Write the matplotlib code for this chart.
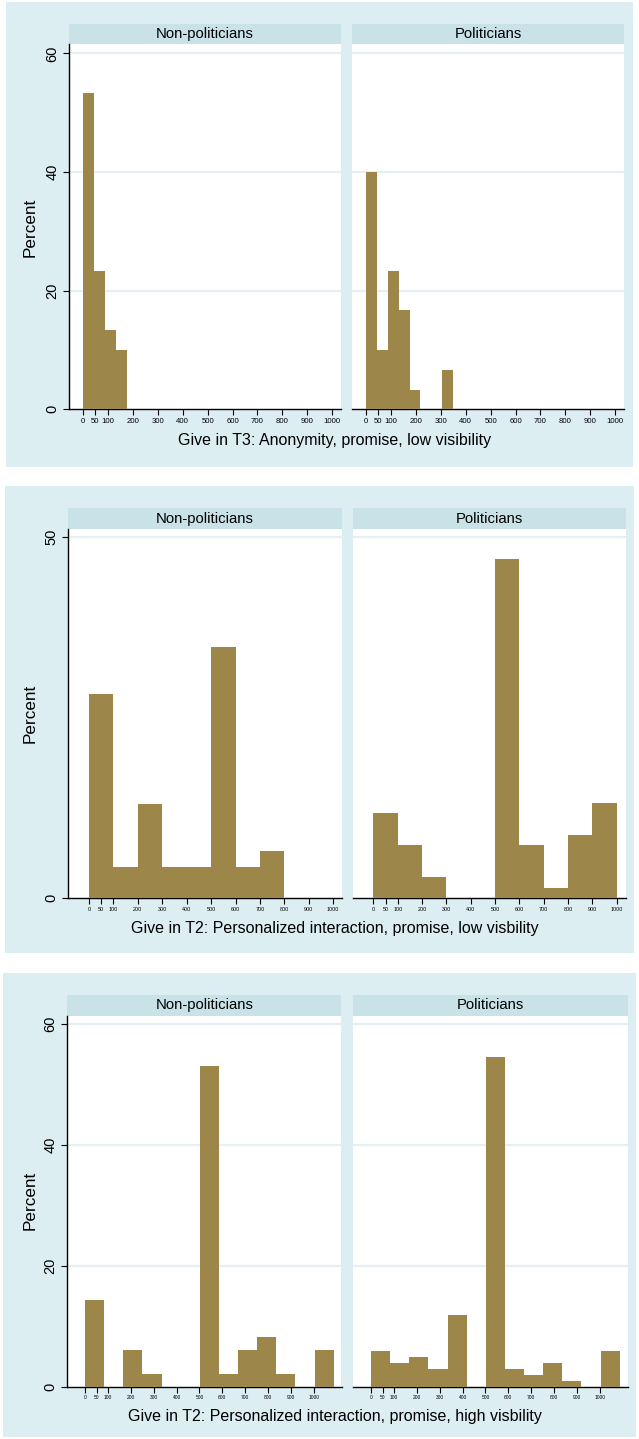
import numpy as np
import matplotlib
matplotlib.use("Agg")
import matplotlib.pyplot as plt
from matplotlib.patches import Rectangle

plt.rcParams['font.family'] = ['Liberation Sans', 'DejaVu Sans']

# counts per bin (percent = count / N)
groups = ["Non-politicians", "Politicians"]

t3_bin = 43.75
t3_nonpol = [16, 7, 4, 3]
t3_pol = [12, 3, 7, 5, 1, 0, 0, 2]

t2low_bin = 100
t2low_nonpol = [13, 2, 6, 2, 2, 16, 2, 3]
t2low_pol = [8, 5, 2, 0, 0, 32, 5, 1, 6, 9]

t2high_bin = 83.6
t2high_nonpol = [7, 0, 3, 1, 0, 0, 26, 1, 3, 4, 1, 0, 3]
t2high_pol = [6, 4, 5, 3, 12, 0, 55, 3, 2, 4, 1, 0, 6]

xticks = [0, 50, 100, 200, 300, 400, 500, 600, 700, 800, 900, 1000]

titles = ["Give in T3: Anonymity, promise, low visibility",
          "Give in T2: Personalized interaction, promise, low visbility",
          "Give in T2: Personalized interaction, promise, high visbility"]

W, H = 639, 1439
BG = "#ddeef2"
STRIP = "#c8e2e8"
GRID = "#e4f1f4"
BAR = "#9c864a"

fig = plt.figure(figsize=(W / 100, H / 100), dpi=100)
fig.patch.set_facecolor("white")


def box(x0, y0, x1, y1):
    # pixel box (top-left origin) -> figure fraction rect
    return [x0 / W, 1 - y1 / H, (x1 - x0) / W, (y1 - y0) / H]


panels = [
    dict(bg=(6, 2, 633, 467), cols=[(69, 341), (352, 624)], strip=(24, 44), plot=(44, 409.3),
         xlim=(-56, 1035), ylim=(0, 61.6), yt=[0, 20, 40, 60], xfs=5.6,
         data=(t3_nonpol, t3_pol), bw=t3_bin, ty=441, py=227),
    dict(bg=(5, 486, 634, 952.7), cols=[(68, 342), (352.5, 625.5)], strip=(508.3, 529), plot=(529, 898.3),
         xlim=(-86, 1036), ylim=(0, 51.15), yt=[0, 50], xfs=3.9,
         data=(t2low_nonpol, t2low_pol), bw=t2low_bin, ty=928, py=713),
    dict(bg=(3, 972.7, 636, 1437), cols=[(67, 341.5), (353, 627.5)], strip=(995, 1015.7), plot=(1015.7, 1386.7),
         xlim=(-79, 1121), ylim=(0, 61.3), yt=[0, 20, 40, 60], xfs=3.5,
         data=(t2high_nonpol, t2high_pol), bw=t2high_bin, ty=1417, py=1200),
]

for k, p in enumerate(panels):
    bx0, by0, bx1, by1 = p["bg"]
    fig.patches.append(Rectangle((bx0 / W, 1 - by1 / H), (bx1 - bx0) / W, (by1 - by0) / H,
                                 transform=fig.transFigure, facecolor=BG, edgecolor="none", zorder=-5))
    for i, (c0, c1) in enumerate(p["cols"]):
        sa = fig.add_axes(box(c0, p["strip"][0], c1, p["strip"][1]))
        sa.set_facecolor(STRIP)
        sa.set_xticks([])
        sa.set_yticks([])
        for s in sa.spines.values():
            s.set_visible(False)
        sa.text(0.5, 0.5, groups[i], ha="center", va="center", fontsize=10.7, transform=sa.transAxes)

        ax = fig.add_axes(box(c0, p["plot"][0], c1, p["plot"][1]))
        ax.set_facecolor("white")
        counts = np.array(p["data"][i], dtype=float)
        pct = counts / counts.sum() * 100
        left = np.arange(len(counts)) * p["bw"]
        ax.bar(left, pct, width=p["bw"], align="edge", color=BAR, linewidth=0, zorder=3)
        ax.set_xlim(*p["xlim"])
        ax.set_ylim(*p["ylim"])
        for g in p["yt"][1:]:
            ax.axhline(g, color=GRID, lw=1.6, zorder=1)
        ax.set_xticks(xticks)
        ax.set_xticklabels([str(t) for t in xticks], fontsize=p["xfs"])
        ax.tick_params(axis="x", direction="out", length=4, width=0.8, pad=2)
        ax.spines["top"].set_visible(False)
        ax.spines["right"].set_visible(False)
        ax.spines["bottom"].set_linewidth(1.0)
        if i == 0:
            ax.spines["left"].set_linewidth(1.0)
            ax.set_yticks(p["yt"])
            ax.set_yticklabels([str(t) for t in p["yt"]], fontsize=10.5, rotation=90, va="center")
            ax.tick_params(axis="y", direction="out", length=4, width=0.8, pad=3)
        else:
            ax.spines["left"].set_visible(False)
            ax.set_yticks([])
    fig.text(335 / W, 1 - p["ty"] / H, titles[k], ha="center", va="center", fontsize=11.5)
    fig.text(30 / W, 1 - p["py"] / H, "Percent", rotation=90, ha="center", va="center", fontsize=12.3)

fig.savefig("out.png", dpi=100, facecolor="white")
